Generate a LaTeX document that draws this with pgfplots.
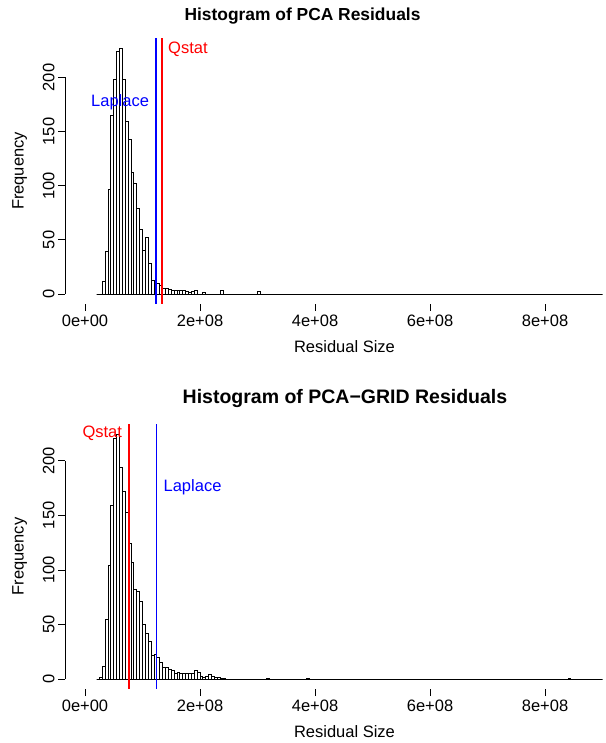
\documentclass[border=0pt]{standalone}
\usepackage{pgfplots}
\pgfplotsset{compat=1.18}
\usepackage{pgfplotstable}
\usepackage{fontspec}
\setmainfont{Liberation Sans}
\pgfplotstableread{
x y
0.20 0
0.30 12
0.35 39
0.40 97
0.45 165
0.50 198
0.55 224
0.60 227
0.65 198
0.70 159
0.75 143
0.80 112
0.85 102
0.90 79
0.95 60
1.00 40
1.05 52
1.10 28
1.15 13
1.20 10
1.25 10
1.30 8
1.35 5
1.40 5
1.45 4
1.50 3
1.55 3
1.60 3
1.65 3
1.70 3
1.75 2
1.80 1
1.85 2
1.90 3
1.95 0
2.05 1
2.10 0
2.35 3
2.40 0
3.00 2
3.05 0
9.00 0
}\pcatable
\pgfplotstableread{
x y
0.20 0
0.25 2
0.30 12
0.35 55
0.40 104
0.45 159
0.50 220
0.55 224
0.60 194
0.65 172
0.70 153
0.75 124
0.80 107
0.85 82
0.90 80
0.95 71
1.00 50
1.05 42
1.10 35
1.15 22
1.20 23
1.25 20
1.30 15
1.35 11
1.40 11
1.45 9
1.50 8
1.55 5
1.60 6
1.65 5
1.70 5
1.75 5
1.80 5
1.85 5
1.90 8
1.95 6
2.00 3
2.05 2
2.10 3
2.15 4
2.20 3
2.25 2
2.30 2
2.35 1
2.40 1
2.45 0
3.15 1
3.20 0
3.85 1
3.90 0
8.40 1
8.45 0
9.00 0
}\gridtable
\newcommand{\lab}{\fontsize{16.5bp}{19bp}\selectfont}
\newcommand{\ttl}{\fontsize{19.5bp}{22bp}\selectfont\bfseries}
\newcommand{\ttlsmall}{\fontsize{17.4bp}{20bp}\selectfont\bfseries}
\pgfplotsset{rstyle/.style={
  scale only axis, width=541bp, xmin=-0.348, xmax=9.06,
  axis line style={draw=none},
  tick pos=left, tick align=outside, major tick length=7bp,
  every tick/.style={black, line width=0.8bp},
  xtick={0,2,4,6,8},
  xticklabels={0e+00,2e+08,4e+08,6e+08,8e+08},
  ytick={0,50,100,150,200},
  ticklabel style={font=\lab},
  /pgf/number format/assume math mode=true,
  yticklabel style={rotate=90, anchor=south},
}}
\begin{document}
\begin{tikzpicture}
\path[use as bounding box] (0,0) rectangle (606bp,743bp);
% top panel
\begin{axis}[rstyle, at={(65bp,439bp)}, anchor=south west, height=266bp, ymin=-9.2, ymax=236.4]
\addplot[ybar interval, fill=white, draw=black, line width=0.9bp] table[x=x, y=y] {\pcatable};
\addplot[blue, line width=1.15bp] coordinates {(1.235,-9.2) (1.235,236.4)};
\addplot[red, line width=1.15bp] coordinates {(1.34,-9.2) (1.34,236.4)};
\draw[line width=0.8bp] (axis cs:0,-9.2) -- (axis cs:8,-9.2);
\draw[line width=0.8bp] (axis cs:-0.348,0) -- (axis cs:-0.348,200);
\node[blue, anchor=base, font=\lab] at (axis cs:0.61,173.6) {Laplace};
\node[red, anchor=base, font=\lab] at (axis cs:1.79,222) {Qstat};
\end{axis}
% bottom panel
\begin{axis}[rstyle, at={(65bp,54bp)}, anchor=south west, height=265bp, ymin=-8.9, ymax=233.6]
\addplot[ybar interval, fill=white, draw=black, line width=0.9bp] table[x=x, y=y] {\gridtable};
\addplot[red, line width=1.15bp] coordinates {(0.765,-8.9) (0.765,233.6)};
\addplot[blue, line width=1.15bp] coordinates {(1.245,-8.9) (1.245,233.6)};
\draw[line width=0.8bp] (axis cs:0,-8.9) -- (axis cs:8,-8.9);
\draw[line width=0.8bp] (axis cs:-0.348,0) -- (axis cs:-0.348,200);
\node[red, anchor=base, font=\lab] at (axis cs:0.3,221.7) {Qstat};
\node[blue, anchor=base, font=\lab] at (axis cs:1.87,171.4) {Laplace};
\end{axis}
% titles and labels
\node[anchor=base, font=\ttlsmall] at (302.5bp,722.5bp) {Histogram of PCA Residuals};
\node[anchor=base, font=\ttl] at (345bp,339.5bp) {Histogram of PCA−GRID Residuals};
\node[anchor=base, font=\lab] at (344.5bp,390bp) {Residual Size};
\node[anchor=base, font=\lab] at (344.5bp,6bp) {Residual Size};
\node[anchor=base, font=\lab, rotate=90] at (23.5bp,572bp) {Frequency};
\node[anchor=base, font=\lab, rotate=90] at (23.5bp,186.5bp) {Frequency};
\end{tikzpicture}
\end{document}
